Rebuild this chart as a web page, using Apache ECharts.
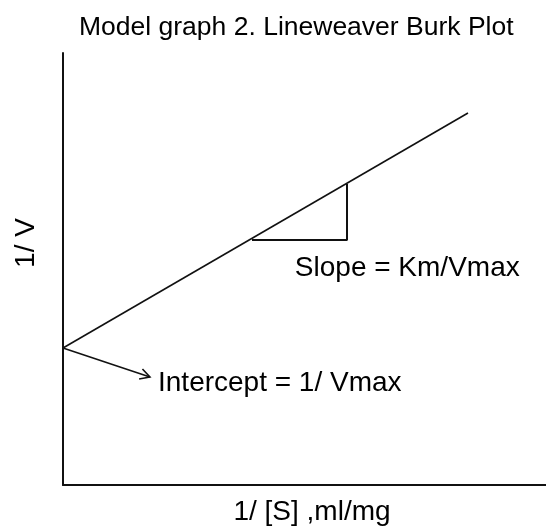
<!DOCTYPE html>
<html><head><meta charset="utf-8">
<script src="https://cdn.jsdelivr.net/npm/echarts@6/dist/echarts.min.js"></script>
<style>html,body{margin:0;padding:0;background:#fff}#c{width:546px;height:527px}</style>
</head><body><div id="c"></div>
<script>
var titleText = 'Model graph 2. Lineweaver Burk Plot';
var xName = '1/ [S] ,ml/mg';
var yName = '1/ V';
var lineX = [0, 8.385];
var lineY = [3.17, 8.611];
var triX = [3.913, 5.88, 5.88];
var triY = [5.671, 5.671, 6.968];
var arrowX = [0, 1.80];
var arrowY = [3.17, 2.50];
var notes = [
  {text: 'Slope = Km/Vmax', x: 4.80, y: 5.02},
  {text: 'Intercept = 1/ Vmax', x: 1.967, y: 2.36}
];
var FONT = 'Liberation Sans';
var FS = 28;
var chart = echarts.init(document.getElementById('c'));
function pairs(xs, ys){ return xs.map(function(v,i){ return [v, ys[i]]; }); }
chart.setOption({
  animation: false,
  backgroundColor: '#fff',
  title: {text: titleText, left: 74, top: 9, textStyle: {fontFamily: FONT, fontSize: 26.5, fontWeight: 'normal', color: '#000'}},
  grid: {left: 63, right: 0, top: 53, bottom: 42, containLabel: false, outerBoundsMode: 'none'},
  xAxis: {type: 'value', min: 0, max: 10, name: xName, nameLocation: 'middle', nameGap: 13,
    nameTextStyle: {fontFamily: FONT, fontSize: FS, color: '#000', verticalAlign: 'top', padding: [0,0,0,15]},
    axisLine: {lineStyle: {color: '#111', width: 2}}, axisTick: {show: false}, axisLabel: {show: false}, splitLine: {show: false}},
  yAxis: {type: 'value', min: 0, max: 10, name: yName, nameLocation: 'middle', nameGap: 23, nameRotate: 90,
    nameTextStyle: {fontFamily: FONT, fontSize: FS, color: '#000', padding: [0,0,0,52]},
    axisLine: {show: true, lineStyle: {color: '#111', width: 2}}, axisTick: {show: false}, axisLabel: {show: false}, splitLine: {show: false}},
  series: [
    {type: 'line', data: pairs(lineX, lineY), symbol: 'none', lineStyle: {color: '#111', width: 1.6}},
    {type: 'line', data: pairs(triX, triY), symbol: 'none', lineStyle: {color: '#111', width: 2}},
    {type: 'custom', data: [[arrowX[0], arrowY[0], arrowX[1], arrowY[1]]],
      renderItem: function(params, api){
        var p0 = api.coord([api.value(0), api.value(1)]);
        var p1 = api.coord([api.value(2), api.value(3)]);
        var ang = Math.atan2(p1[1]-p0[1], p1[0]-p0[0]);
        var L = 11, a = 0.5;
        var h1 = [p1[0]-L*Math.cos(ang-a), p1[1]-L*Math.sin(ang-a)];
        var h2 = [p1[0]-L*Math.cos(ang+a), p1[1]-L*Math.sin(ang+a)];
        return {type: 'group', children: [
          {type: 'line', shape: {x1: p0[0], y1: p0[1], x2: p1[0], y2: p1[1]}, style: {stroke: '#111', lineWidth: 1.6}},
          {type: 'polyline', shape: {points: [h1, p1, h2]}, style: {stroke: '#111', lineWidth: 1.6, fill: null}}
        ]};
      }},
    {type: 'scatter', symbolSize: 0, itemStyle: {opacity: 1},
      data: notes.map(function(n){ return {value: [n.x, n.y], name: n.text}; }),
      label: {show: true, position: 'right', distance: 0, opacity: 1, formatter: function(p){ return p.name; },
        fontFamily: FONT, fontSize: FS, color: '#000'}}
  ]
});
</script></body></html>
